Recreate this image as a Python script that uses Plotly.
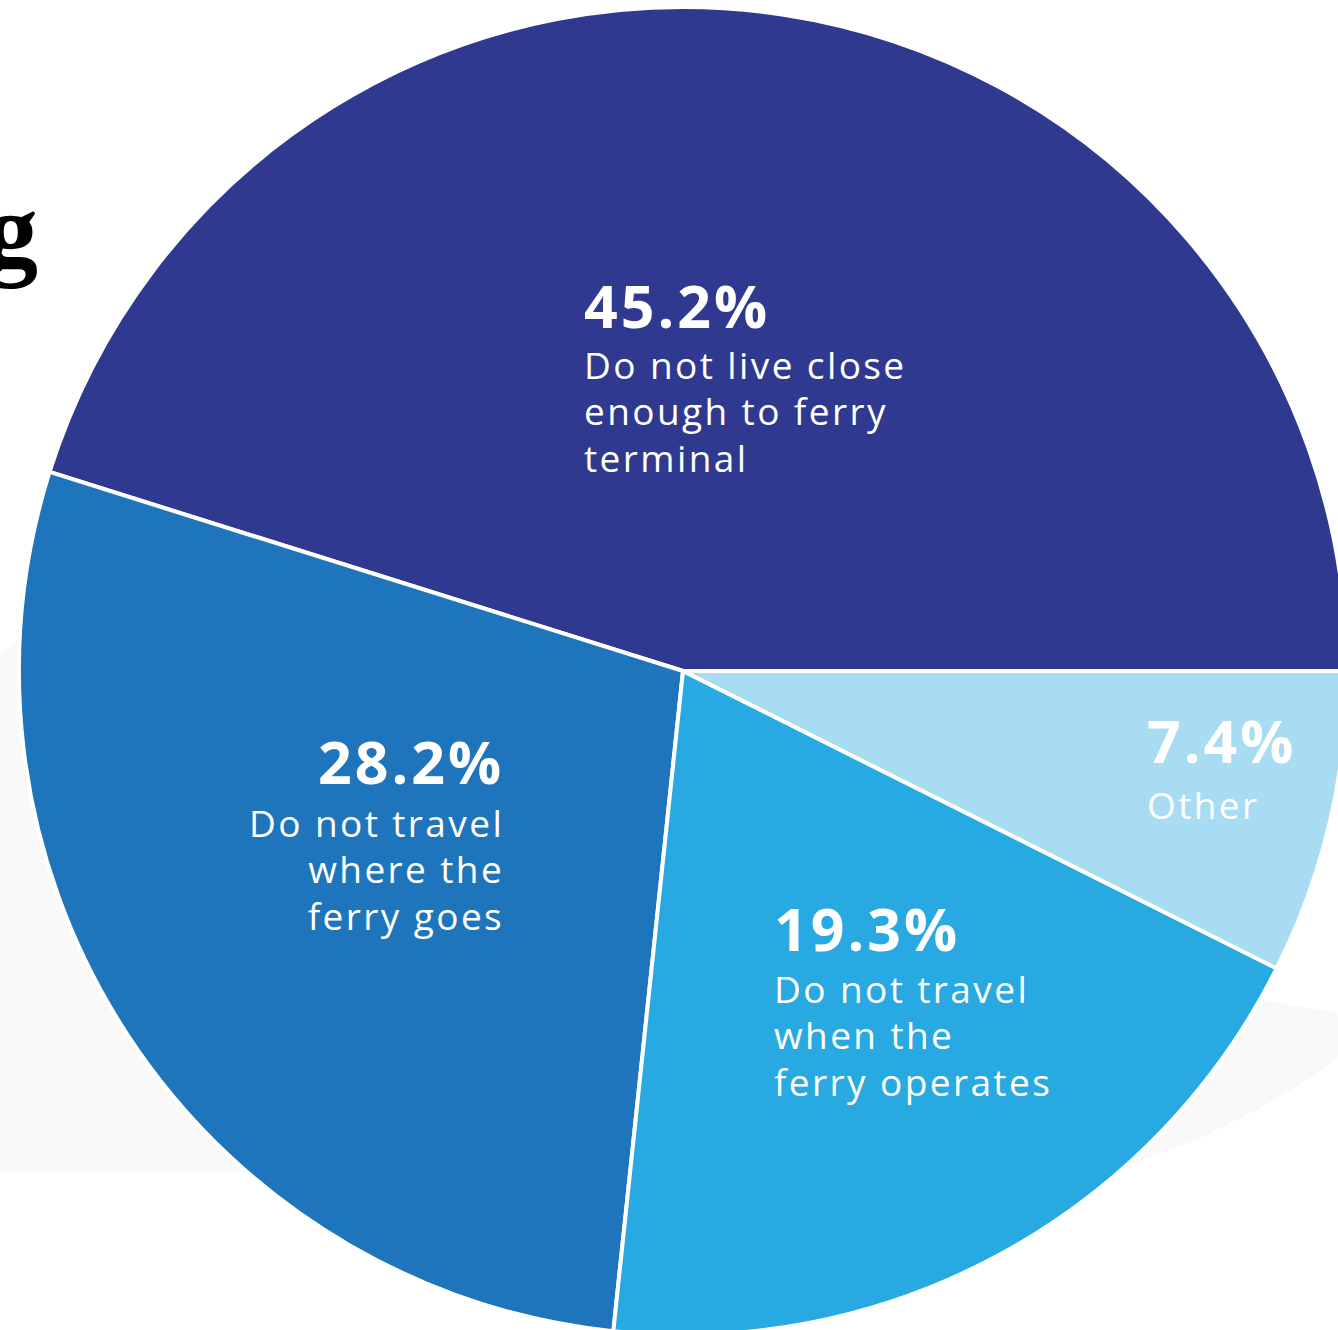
import plotly.graph_objects as go

# ---------------- data ----------------
categories = [
    "Do not live close enough to ferry terminal",
    "Do not travel where the ferry goes",
    "Do not travel when the ferry operates",
    "Other",
]
values = [45.2, 28.2, 19.3, 7.4]
pct_labels = ["45.2%", "28.2%", "19.3%", "7.4%"]
label_lines = [
    ["Do not live close", "enough to ferry", "terminal"],
    ["Do not travel", "where the", "ferry goes"],
    ["Do not travel", "when the", "ferry operates"],
    ["Other"],
]
title_fragment = "g"

# ---------------- style / layout ----------------
colors = ["#2E398F", "#1F75BB", "#28A9E1", "#A8DCF2"]
W, H = 1350, 1336
CX, CY, R = 683, 671, 664
FONT = "Open Sans"
PCT_SIZE, BODY_SIZE = 59, 37
BASE_SIZE = 35.8          # sets the line step (1.3 em) of the label block
PCT_TRACK, BODY_TRACK = 3, 2.4
# (x, baseline of the last description line, alignment, raise of the percentage) per label
label_pos = [
    (582, 473, "left", 4),
    (506, 931, "right", 6),
    (772, 1097, "left", 5),
    (1145, 820, "left", 9),
]


def px(x):
    return x / W


def py(y):
    return 1 - y / H


total = sum(values)
rotation = 90 - 360 * values[0] / total

fig = go.Figure()
fig.add_trace(
    go.Pie(
        labels=categories,
        values=values,
        sort=False,
        direction="counterclockwise",
        rotation=rotation,
        marker=dict(colors=colors, line=dict(color="white", width=4)),
        textinfo="none",
        hoverinfo="label+percent",
        showlegend=False,
        domain=dict(x=[px(CX - R), px(CX + R)], y=[py(CY + R), py(CY - R)]),
    )
)

annotations = []
for (x, b, align, lift), pct, lines in zip(label_pos, pct_labels, label_lines):
    head = (
        f'<span style="font-size:{PCT_SIZE}px;letter-spacing:{PCT_TRACK}px;'
        f'baseline-shift:{lift}px"><b>{pct}</b></span>'
    )
    body = "<br>".join(
        f'<span style="font-size:{BODY_SIZE}px;letter-spacing:{BODY_TRACK}px">{ln}</span>'
        for ln in lines
    )
    annotations.append(
        dict(
            x=px(x), y=py(b + 0.293 * BODY_SIZE + 1), xref="paper", yref="paper",
            xanchor=align, yanchor="bottom", align=align, showarrow=False,
            text=head + "<br>" + body,
            font=dict(family=FONT, size=BASE_SIZE, color="white"),
        )
    )

G_SIZE = 106
annotations.append(
    dict(
        x=px(40), y=py(268 + 0.22 * G_SIZE), xref="paper", yref="paper",
        xanchor="right", yanchor="bottom", showarrow=False,
        text=f"<b>{title_fragment}</b>",
        font=dict(family="Liberation Serif", size=G_SIZE, color="black"),
    )
)


def path(points):
    return "M " + " L ".join(f"{px(x):.5f},{py(y):.5f}" for x, y in points) + " Z"


shapes = [
    dict(type="path", xref="paper", yref="paper", layer="below", line_width=0,
         fillcolor="#F9F9F9",
         path=path([(0, 655), (20, 638), (300, 560), (683, 560), (683, 1173), (0, 1173)])),
    dict(type="path", xref="paper", yref="paper", layer="below", line_width=0,
         fillcolor="#F9F9F9",
         path=path([(1130, 1165), (1200, 1138), (1260, 1108), (1310, 1078), (1350, 1050),
                    (1350, 1015), (1260, 1000), (1100, 1000)])),
]

fig.update_layout(
    width=W, height=H,
    margin=dict(l=0, r=0, t=0, b=0),
    paper_bgcolor="white", plot_bgcolor="white",
    annotations=annotations, shapes=shapes,
)

fig.write_html(
    "out.html",
    post_script="document.documentElement.style.overflow='hidden';document.body.style.overflow='hidden';document.body.style.margin='0';",
)
